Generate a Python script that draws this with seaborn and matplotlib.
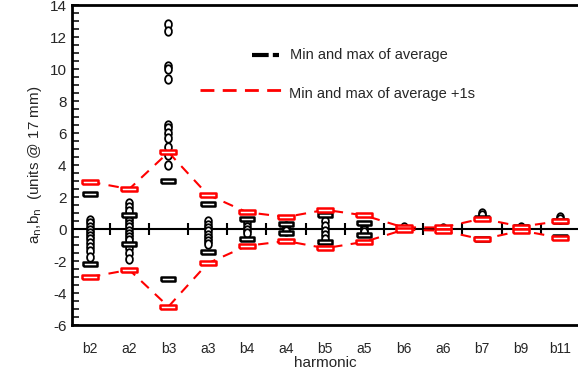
import numpy as np
import pandas as pd
import matplotlib
matplotlib.use('Agg')
import matplotlib.pyplot as plt
import seaborn as sb

# harmonic labels along the x axis
harmonics = ['b2', 'a2', 'b3', 'a3', 'b4', 'a4', 'b5', 'a5', 'b6', 'a6', 'b7', 'b9', 'b11']

# individual values (open circles), per harmonic
circ_b2 = [0.55, 0.35, 0.15, -0.05, -0.25, -0.45, -0.65, -0.85, -1.1, -1.4, -1.75]
circ_a2 = [1.6, 1.35, 1.1, 0.7, 0.5, 0.3, 0.1, -0.1, -0.3, -0.5, -0.7, -1.2, -1.5, -1.9]
circ_b3 = [12.8, 12.4, 10.2, 10.0, 9.4, 6.5, 6.3, 6.0, 5.7, 5.1, 4.6, 4.0]
circ_a3 = [0.5, 0.25, 0.05, -0.15, -0.35, -0.55, -0.75, -0.95]
circ_b4 = [0.35, 0.15, -0.05, -0.25]
circ_a4 = [0.2, 0.05, -0.1]
circ_b5 = [0.5, 0.2, -0.1, -0.4, -0.6]
circ_a5 = [0.15, -0.05, -0.2]
circ_b6 = [0.15]
circ_a6 = [0.05]
circ_b7 = [1.0, 0.85]
circ_b9 = [0.15]
circ_b11 = [0.75, 0.65]

# min and max of average
avg_max = [2.2, 0.9, 3.0, 1.55, 0.6, 0.3, 0.85, 0.4, 0.05, 0.05, 0.7, 0.1, 0.5]
avg_min = [-2.2, -0.95, -3.1, -1.45, -0.6, -0.25, -0.8, -0.4, 0.0, -0.05, -0.6, 0.0, -0.5]

# min and max of average +1 sigma
sig_max = [2.95, 2.5, 4.8, 2.15, 1.05, 0.75, 1.2, 0.85, 0.1, 0.1, 0.65, 0.15, 0.5]
sig_min = [-3.0, -2.55, -4.85, -2.15, -1.05, -0.75, -1.2, -0.8, -0.05, -0.1, -0.65, -0.1, -0.55]

circles = [circ_b2, circ_a2, circ_b3, circ_a3, circ_b4, circ_a4, circ_b5,
           circ_a5, circ_b6, circ_a6, circ_b7, circ_b9, circ_b11]

#building dataframes
pos = np.arange(len(harmonics))
circ_df = pd.DataFrame([(i, v) for i, vals in enumerate(circles) for v in vals], columns=['pos', 'value'])
env_df = pd.DataFrame({'pos': pos, 'avg_max': avg_max, 'avg_min': avg_min,
                       'sig_max': sig_max, 'sig_min': sig_min})

sb.set_style('white')
plt.rcParams['font.family'] = ['Liberation Sans', 'DejaVu Sans']
plt.rcParams['axes.unicode_minus'] = False

fig = plt.figure(figsize=(5.78, 3.76), dpi=100)
ax = fig.add_axes([0.1246, 0.1356, 0.8754, 0.851])

# marker shapes
rect = [(-1, -0.3), (1, -0.3), (1, 0.3), (-1, 0.3), (-1, -0.3)]
t = np.linspace(0, 2 * np.pi, 25)
ellipse = list(zip(0.8 * np.cos(t), np.sin(t)))

# zero line with crossing ticks between harmonics
ax.axhline(0, color='black', lw=1.5, zorder=1)
ax.plot(pos[:-1] + 0.5, np.zeros(len(pos) - 1), ls='none', marker='|', ms=9, mew=1.5, color='black', zorder=1)

sb.scatterplot(data=circ_df, x='pos', y='value', marker=ellipse, s=38, facecolor='white',
               edgecolor='black', linewidth=1.3, ax=ax, zorder=2)

for col in ['avg_max', 'avg_min']:
    ax.plot(env_df['pos'], env_df[col], ls='none', marker=rect, ms=10, mfc='white',
            mec='black', mew=1.8, zorder=3)

for col in ['sig_max', 'sig_min']:
    sb.lineplot(data=env_df, x='pos', y=col, color='red', lw=1.5, sort=False, ax=ax, zorder=4,
                dashes=False, linestyle=(0, (5, 4)))
    ax.plot(env_df['pos'], env_df[col], ls='none', marker=rect, ms=11, mfc='white',
            mec='red', mew=1.8, zorder=5)

ax.set_xlim(-0.46, 12.45)
ax.set_ylim(-6, 14)
ax.set_xticks(pos)
ax.set_xticklabels(harmonics, fontsize=10)
ax.tick_params(axis='x', length=0, pad=12)
ax.set_yticks(np.arange(-6, 15, 2))
ax.set_yticks(np.arange(-6, 14.1, 0.5), minor=True)
ax.tick_params(axis='y', which='both', direction='in', length=5, width=1.3, labelsize=11, pad=4, left=True)
ax.set_xlabel('harmonic', fontsize=11, labelpad=0)
ax.set_ylabel(r'a$_{\rm n}$,b$_{\rm n}$  (units @ 17 mm)', fontsize=11, labelpad=4)

for s in ['left', 'top', 'bottom']:
    ax.spines[s].set_color('black')
    ax.spines[s].set_linewidth(2)
ax.spines['right'].set_visible(False)

# legend drawn by hand
ax.plot([0.356, 0.41], [0.843, 0.843], transform=ax.transAxes, color='black', lw=3,
        ls=(0, (4, 1)), solid_capstyle='round')
ax.text(0.43, 0.843, 'Min and max of average', transform=ax.transAxes, fontsize=10.5, va='center')
ax.plot([0.253, 0.428], [0.733, 0.733], transform=ax.transAxes, color='red', lw=2, ls=(0, (5, 3)))
ax.text(0.428, 0.722, 'Min and max of average +1s', transform=ax.transAxes, fontsize=10.5, va='center')

plt.savefig('out.png', dpi=100)
